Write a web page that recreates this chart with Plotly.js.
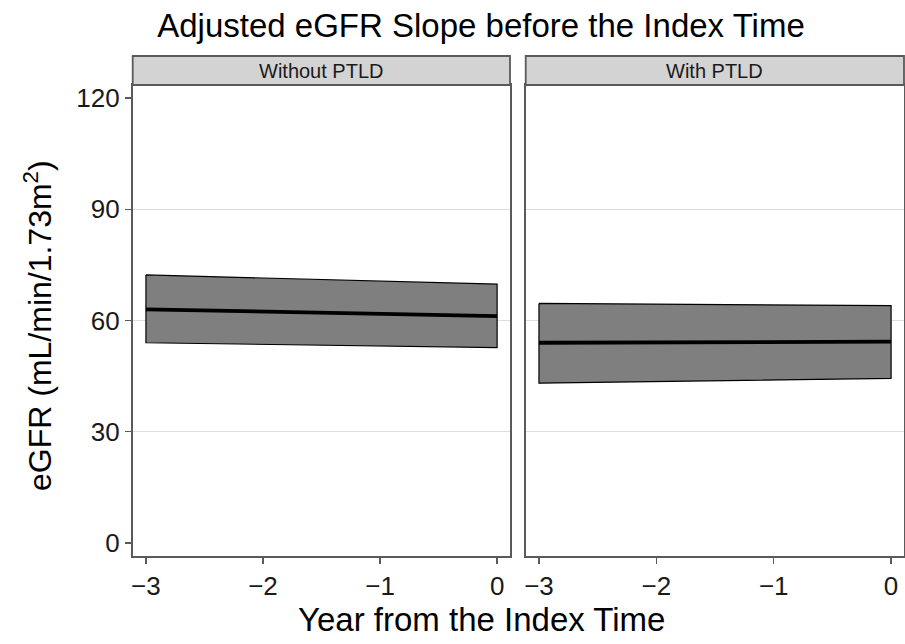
<!DOCTYPE html>
<html>
<head>
<meta charset="utf-8">
<script src="https://cdn.plot.ly/plotly-3.0.1.min.js"></script>
<style>html,body{margin:0;padding:0;background:#fff;}#chart{width:905px;height:644px;}</style>
</head>
<body>
<div id="chart"></div>
<script>
// Data
const panels = ["Without PTLD", "With PTLD"];
const years = [-3, 0];
const fitWithout = [63.0, 61.2];
const upperWithout = [72.3, 69.8];
const lowerWithout = [54.0, 52.7];
const fitWith = [54.0, 54.3];
const upperWith = [64.6, 64.0];
const lowerWith = [43.1, 44.4];
const yTicks = [0, 30, 60, 90, 120];
const yGrid = [30, 60, 90];
const xTicks = [-3, -2, -1, 0];
const xTickText = ["\u22123", "\u22122", "\u22121", "0"];

const W = 905, H = 644;
const px = v => v / W;
const py = v => 1 - v / H;
const FAM = 'Liberation Sans, Arial, sans-serif';

function band(xa, ya, up, lo) {
  return {
    x: years.concat(years.slice().reverse()).concat([years[0]]),
    y: up.concat(lo.slice().reverse()).concat([up[0]]),
    xaxis: xa, yaxis: ya, type: 'scatter', mode: 'lines', fill: 'toself',
    fillcolor: '#7f7f7f', line: {color: '#000', width: 1.2}, hoverinfo: 'skip', showlegend: false
  };
}
function fit(xa, ya, f) {
  return {x: years, y: f, xaxis: xa, yaxis: ya, type: 'scatter', mode: 'lines',
    line: {color: '#000', width: 3.8}, showlegend: false};
}

const traces = [
  band('x', 'y', upperWithout, lowerWithout), fit('x', 'y', fitWithout),
  band('x2', 'y2', upperWith, lowerWith), fit('x2', 'y2', fitWith)
];

const axisCol = '#5a5a5a';
const tickFont = {family: FAM, size: 26, color: '#1a1a1a'};
const yRange = [-3.5, 123.5];
const xRange = [-3.113, 0.11];
function xax(dom) {
  return {domain: dom, range: xRange, tickvals: xTicks, ticktext: xTickText, ticks: 'outside',
    ticklen: 6, tickwidth: 1.3, tickcolor: axisCol, showline: true, linecolor: axisCol, linewidth: 1.8,
    mirror: true, showgrid: false, zeroline: false, tickfont: tickFont, fixedrange: true};
}
function yax(anchor, labels) {
  return {domain: [py(556), py(85)], range: yRange, tickvals: yTicks, anchor: anchor,
    showticklabels: labels, ticks: labels ? 'outside' : '', ticklen: 6, tickwidth: 1.3, tickcolor: axisCol,
    showline: true, linecolor: axisCol, linewidth: 1.8, mirror: true, showgrid: false, zeroline: false,
    minor: {tickvals: yGrid, showgrid: true, gridcolor: '#dedede', gridwidth: 1.2, ticks: ''},
    tickfont: tickFont, fixedrange: true};
}

const strips = [[132.7, 510], [525.7, 904]];
const shapes = [];
const annotations = [];
strips.forEach((s, i) => {
  shapes.push({type: 'rect', xref: 'paper', yref: 'paper', x0: px(s[0]), x1: px(s[1]),
    y0: py(85), y1: py(56), fillcolor: '#d3d3d3', line: {color: axisCol, width: 1.8}, layer: 'above'});
  annotations.push({xref: 'paper', yref: 'paper', x: px((s[0] + s[1]) / 2), y: py(70.5),
    text: panels[i], showarrow: false, xanchor: 'center', yanchor: 'middle',
    font: {family: FAM, size: 20, color: '#1a1a1a'}});
});
annotations.push({xref: 'paper', yref: 'paper', x: px(481), y: py(619), text: 'Year from the Index Time',
  showarrow: false, xanchor: 'center', yanchor: 'middle',
  font: {family: FAM, size: 33, color: '#000'}});
annotations.push({xref: 'paper', yref: 'paper', x: px(38), y: py(326), text: 'eGFR (mL/min/1.73m<sup>2</sup>)',
  showarrow: false, xanchor: 'center', yanchor: 'middle', textangle: -90,
  font: {family: FAM, size: 32, color: '#000'}});

const layout = {
  width: W, height: H, margin: {l: 0, r: 0, t: 0, b: 0},
  paper_bgcolor: '#fff', plot_bgcolor: '#fff',
  title: {text: 'Adjusted eGFR Slope before the Index Time', x: px(481), xanchor: 'center',
    y: py(25), yanchor: 'middle', font: {family: FAM, size: 33, color: '#000'}},
  xaxis: Object.assign(xax([px(132.7), px(510)]), {anchor: 'y'}),
  yaxis: yax('x', true),
  xaxis2: Object.assign(xax([px(525.7), px(904)]), {anchor: 'y2'}),
  yaxis2: yax('x2', false),
  shapes: shapes, annotations: annotations, showlegend: false
};
Plotly.newPlot('chart', traces, layout, {displayModeBar: false, staticPlot: true});
</script>
</body>
</html>
